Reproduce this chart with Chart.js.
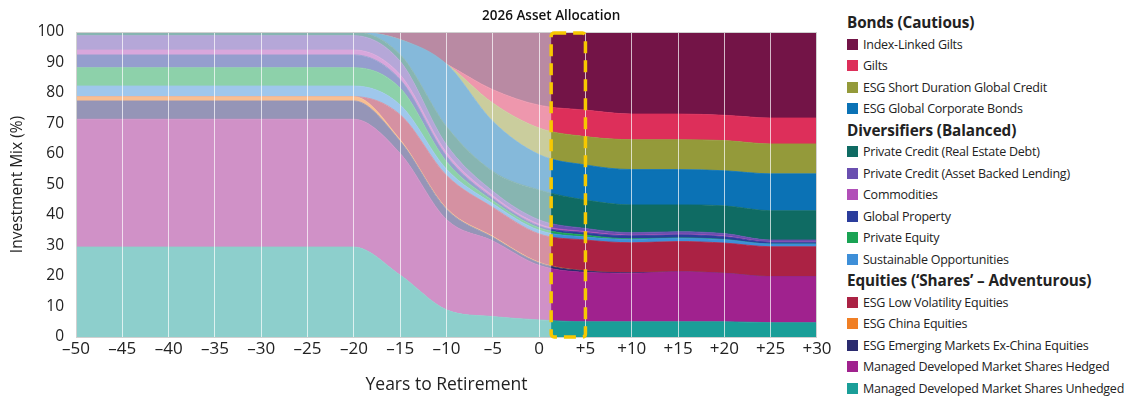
<!DOCTYPE html>
<html lang="en">
<head>
  <meta charset="UTF-8" />
  <title>2026 Asset Allocation</title>
  <script src="https://cdn.jsdelivr.net/npm/chart.js"></script>
  <style>
    body {
      margin: 0;
      background: #fff;
      font-family: 'Open Sans', sans-serif;
      color: #222;
    }
    .wrap {
      position: relative;
      width: 1127px;
      height: 402px;
    }
    .chart-box {
      position: absolute;
      left: 0;
      top: 0;
      width: 840px;
      height: 402px;
    }
    .legend {
      position: absolute;
      left: 847px;
      top: 12px;
      font-size: 12.5px;
      letter-spacing: -0.25px;
      line-height: 21.5px;
    }
    .legend .head {
      font-weight: 700;
      font-size: 15.3px;
      letter-spacing: -0.1px;
    }
    .legend .item span {
      display: inline-block;
      width: 11px;
      height: 11px;
      margin-right: 5px;
      vertical-align: -1px;
    }
  </style>
</head>
<body>
  <div class="wrap">
    <div class="chart-box"><canvas id="allocChart"></canvas></div>
    <div class="legend" id="legend"></div>
  </div>

  <script>
    // years to retirement (x) and the tick labels shown under the axis
    const years = [-50, -20, -15, -10, -5, 0, 5, 10, 15, 20, 25, 30];
    const xTickLabels = ['–50', '–45', '–40', '–35', '–30', '–25', '–20', '–15', '–10', '–5', '0',
                         '+5', '+10', '+15', '+20', '+25', '+30'];
    const yTickLabels = ['0', '10', '20', '30', '40', '50', '60', '70', '80', '90', '100'];

    // stacked from the bottom up (%)
    const unhedged   = [29.5, 29.5, 20.3, 8.9, 6.7, 5.6, 5.0, 5.0, 5.0, 5.0, 4.7, 4.7];
    const hedged     = [41.9, 41.9, 39.9, 29.6, 24.8, 17.9, 16.2, 15.9, 16.4, 15.9, 15.1, 15.1];
    const emExChina  = [6.0, 6.0, 4.0, 3.4, 1.2, 0.8, 0.5, 0.2, 0, 0, 0, 0];
    const china      = [1.4, 1.4, 0.5, 0.3, 0.3, 0.2, 0, 0, 0, 0, 0, 0];
    const lowVol     = [0, 0, 8.2, 10.8, 9.5, 9.3, 10.1, 9.8, 9.9, 9.9, 9.8, 9.8];
    const sustOpp    = [3.5, 3.5, 3.2, 2.0, 1.2, 1.2, 1.0, 1.1, 1.1, 1.1, 0.9, 0.9];
    const privEquity = [6.0, 6.0, 5.5, 2.5, 1.0, 0.8, 0.6, 0.2, 0.1, 0.1, 0, 0];
    const globalProp = [4.2, 4.2, 2.8, 1.8, 0.8, 0.6, 0.8, 1.0, 1.0, 0.9, 0.6, 0.6];
    const commods    = [1.6, 1.6, 1.6, 1.2, 0.8, 0.6, 0.4, 0.2, 0.2, 0.2, 0.1, 0.1];
    const pcABL      = [4.7, 4.7, 4.4, 2.5, 1.5, 1.4, 1.0, 0.8, 0.8, 0.8, 0.6, 0.6];
    const pcRED      = [1.2, 1.2, 2.2, 6.0, 6.5, 9.8, 9.3, 9.1, 8.8, 9.1, 9.6, 9.6];
    const globalCorp = [0, 0, 4.9, 20.5, 16.4, 11.6, 11.5, 11.6, 11.6, 11.5, 12.1, 12.1];
    const shortDur   = [0, 0, 0, 0, 6.0, 8.7, 9.3, 9.8, 9.8, 9.9, 9.8, 9.8];
    const gilts      = [0, 0, 0, 0, 4.4, 7.5, 8.7, 8.4, 8.4, 8.3, 8.5, 8.5];
    const indexGilts = [0, 0, 2.5, 10.5, 18.9, 24.0, 25.6, 26.9, 26.9, 27.3, 28.2, 28.2];

    const currentStart = 1.3;   // where the 2026 box begins
    const currentEnd = 5;

    const series = [
      { label: 'Managed Developed Market Shares Unhedged', data: unhedged, color: '#1a9e98' },
      { label: 'Managed Developed Market Shares Hedged', data: hedged, color: '#a0228e' },
      { label: 'ESG Emerging Markets Ex-China Equities', data: emExChina, color: '#2a2a6e' },
      { label: 'ESG China Equities', data: china, color: '#f07f25' },
      { label: 'ESG Low Volatility Equities', data: lowVol, color: '#ab2244' },
      { label: 'Sustainable Opportunities', data: sustOpp, color: '#3e8fd8' },
      { label: 'Private Equity', data: privEquity, color: '#1aa354' },
      { label: 'Global Property', data: globalProp, color: '#2b3d9c' },
      { label: 'Commodities', data: commods, color: '#b14fb8' },
      { label: 'Private Credit (Asset Backed Lending)', data: pcABL, color: '#6a4fb0' },
      { label: 'Private Credit (Real Estate Debt)', data: pcRED, color: '#0f6b63' },
      { label: 'ESG Global Corporate Bonds', data: globalCorp, color: '#0b72b5' },
      { label: 'ESG Short Duration Global Credit', data: shortDur, color: '#949a3a' },
      { label: 'Gilts', data: gilts, color: '#dd2f5a' },
      { label: 'Index-Linked Gilts', data: indexGilts, color: '#731447' }
    ];

    const groups = [
      { title: 'Bonds (Cautious)', items: ['Index-Linked Gilts', 'Gilts', 'ESG Short Duration Global Credit', 'ESG Global Corporate Bonds'] },
      { title: 'Diversifiers (Balanced)', items: ['Private Credit (Real Estate Debt)', 'Private Credit (Asset Backed Lending)', 'Commodities', 'Global Property', 'Private Equity', 'Sustainable Opportunities'] },
      { title: 'Equities (\u2018Shares\u2019 \u2013 Adventurous)', items: ['ESG Low Volatility Equities', 'ESG China Equities', 'ESG Emerging Markets Ex-China Equities', 'Managed Developed Market Shares Hedged', 'Managed Developed Market Shares Unhedged'] }
    ];

    // legend
    const legendEl = document.getElementById('legend');
    groups.forEach(g => {
      const h = document.createElement('div');
      h.className = 'head';
      h.textContent = g.title;
      legendEl.appendChild(h);
      g.items.forEach(name => {
        const s = series.find(d => d.label === name);
        const row = document.createElement('div');
        row.className = 'item';
        row.innerHTML = '<span style="background:' + s.color + '"></span>' + name;
        legendEl.appendChild(row);
      });
    });

    // fade the history, box the current year, gridlines + frame
    const decorations = {
      id: 'decorations',
      afterDatasetsDraw(chart) {
        const { ctx, chartArea: a, scales: { x } } = chart;
        const xs = x.getPixelForValue(currentStart);
        ctx.save();
        ctx.fillStyle = 'rgba(255,255,255,0.5)';
        ctx.fillRect(a.left, a.top, xs - a.left, a.bottom - a.top);
        ctx.restore();
      },
      afterDraw(chart) {
        const { ctx, chartArea: a, scales: { x } } = chart;
        ctx.save();
        ctx.strokeStyle = '#d0d0d0';
        ctx.lineWidth = 1;
        ctx.strokeRect(a.left + 0.5, a.top + 0.5, a.right - a.left - 1, a.bottom - a.top);

        const x1 = x.getPixelForValue(currentStart);
        const x2 = x.getPixelForValue(currentEnd);
        ctx.strokeStyle = '#f7c800';
        ctx.lineWidth = 3.5;
        ctx.setLineDash([12, 7]);
        ctx.beginPath();
        ctx.roundRect(x1, a.top + 1, x2 - x1, a.bottom - a.top - 1, 3);
        ctx.stroke();

        ctx.setLineDash([]);
        ctx.fillStyle = '#111';
        ctx.font = '600 13.5px "Open Sans"';
        ctx.textAlign = 'center';
        ctx.textBaseline = 'middle';
        ctx.fillText('2026 Asset Allocation', x1, 16);
        ctx.restore();
      }
    };

    const ctx = document.getElementById('allocChart').getContext('2d');
    new Chart(ctx, {
      type: 'line',
      data: {
        datasets: series.map((s, i) => ({
          label: s.label,
          data: years.map((yr, j) => ({ x: yr, y: s.data[j] })),
          backgroundColor: s.color,
          borderColor: s.color,
          borderWidth: 0.8,
          pointRadius: 0,
          fill: i === 0 ? 'origin' : '-1',
          cubicInterpolationMode: 'monotone'
        }))
      },
      options: {
        responsive: true,
        maintainAspectRatio: false,
        animation: false,
        layout: { padding: { top: 32, right: 23, left: 0, bottom: 0 } },
        plugins: {
          legend: { display: false },
          tooltip: { enabled: false }
        },
        scales: {
          x: {
            type: 'linear',
            min: -50,
            max: 30,
            afterFit: s => { s.height = 65; },
            border: { display: false },
            grid: {
              z: 1,
              color: 'rgba(255,255,255,0.7)',
              lineWidth: 1,
              drawTicks: false
            },
            ticks: {
              stepSize: 5,
              padding: 2,
              color: '#222',
              font: { family: 'Open Sans', size: 17 },
              callback: (v, i) => xTickLabels[i]
            },
            title: {
              display: true,
              text: 'Years to Retirement',
              color: '#222',
              font: { family: 'Open Sans', size: 17.5 },
              padding: { top: 0, bottom: 6 }
            }
          },
          y: {
            stacked: true,
            min: 0,
            max: 100,
            afterFit: s => { s.width = 76; },
            border: { display: false },
            grid: { display: false, drawTicks: false },
            ticks: {
              stepSize: 10,
              padding: 12,
              color: '#222',
              font: { family: 'Open Sans', size: 15.5 },
              callback: (v, i) => yTickLabels[i]
            },
            title: {
              display: true,
              text: 'Investment Mix (%)',
              color: '#222',
              font: { family: 'Open Sans', size: 15.5 },
              padding: { top: 8, bottom: 0 }
            }
          }
        }
      },
      plugins: [decorations]
    });
  </script>
</body>
</html>
